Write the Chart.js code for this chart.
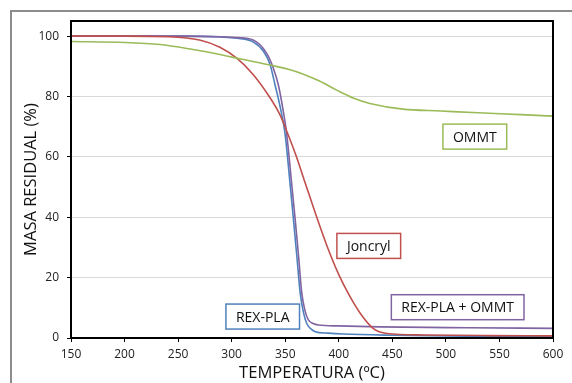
<!DOCTYPE html>
<html>
<head>
<meta charset="utf-8">
<script src="https://cdn.jsdelivr.net/npm/chart.js@4"></script>
<style>
  html, body { margin: 0; padding: 0; background: #fff; }
  #wrap { width: 572px; height: 383px; }
</style>
</head>
<body>
<div id="wrap"><canvas id="tga" width="572" height="383"></canvas></div>
<script>
// temperature (ºC) and residual mass (%)
const ommtTemp = [150, 200, 233, 260, 289, 310, 336, 352, 367, 382, 398, 414, 429, 460, 495, 530, 570, 600];
const ommtMass = [98.2, 97.9, 97.2, 95.8, 93.9, 92.3, 90.4, 89.1, 87.4, 85.1, 82.1, 79.4, 77.7, 75.8, 75.2, 74.6, 74.0, 73.5];

const joncrylTemp = [150, 200, 240, 270, 289, 305, 320, 336, 345, 352, 360, 368, 378, 389, 400, 410, 420, 432, 445, 480, 540, 600];
const joncrylMass = [100, 100, 99.8, 98.7, 96.3, 92.6, 87.3, 79.5, 74, 68, 60.5, 52, 41.5, 30.5, 21, 14, 8.2, 3.2, 1.5, 1.0, 0.8, 0.7];

const rexTemp = [150, 250, 290, 305, 320, 330, 336, 340.5, 345, 349.8, 354.5, 357.6, 361, 364, 367, 370, 374, 378, 390, 404, 450, 520, 600];
const rexMass = [100, 100, 99.7, 99.3, 98.1, 94.8, 90.4, 83.8, 77, 67.8, 51.2, 39.6, 26.5, 14.8, 8.5, 4.9, 3, 2.1, 1.6, 1.3, 0.9, 0.6, 0.5];

const rexOmmtTemp = [150, 250, 290, 305, 320, 332.7, 339, 343.6, 348.3, 351.3, 356, 359.2, 362.5, 365.4, 368.5, 371.6, 376, 381, 400, 438, 520, 600];
const rexOmmtMass = [100, 100, 99.8, 99.5, 98.7, 94.3, 89.3, 83.8, 74.9, 67.8, 51.2, 39.6, 27, 15, 9, 6, 4.8, 4.3, 4.0, 3.7, 3.4, 3.2];

const yTicks = [0, 20, 40, 60, 80, 100];

// label boxes: text, anchor temperature, anchor mass, colour
const boxText = ['OMMT', 'Joncryl', 'REX-PLA', 'REX-PLA + OMMT'];
const boxTemp = [527, 428, 329, 511];
const boxMass = [66.7, 30.5, 7.1, 10.2];
const boxColor = ['#9bbb59', '#c0504d', '#4f81bd', '#8064a2'];

function pairs(xs, ys) {
    return xs.map((x, i) => ({ x: x, y: ys[i] }));
}

function series(label, xs, ys, color) {
    return {
        label: label,
        data: pairs(xs, ys),
        borderColor: color,
        backgroundColor: color,
        borderWidth: 1.6,
        pointRadius: 0,
        fill: false,
        cubicInterpolationMode: 'monotone'
    };
}

const frames = {
    id: 'frames',
    afterDraw(chart) {
        const ctx = chart.ctx;
        const a = chart.chartArea;
        ctx.save();
        // outer grey frame
        ctx.strokeStyle = '#8c8c8c';
        ctx.lineWidth = 2;
        ctx.beginPath();
        ctx.moveTo(11, 383);
        ctx.lineTo(11, 11);
        ctx.lineTo(572, 11);
        ctx.stroke();
        // plot frame
        ctx.strokeStyle = '#000';
        ctx.lineWidth = 2;
        ctx.strokeRect(a.left, a.top, a.right - a.left, a.bottom - a.top);
        // label boxes
        const xs = chart.scales.x, ys = chart.scales.y;
        ctx.font = '14px "Open Sans", sans-serif';
        ctx.textAlign = 'center';
        ctx.textBaseline = 'middle';
        boxText.forEach((t, i) => {
            const cx = xs.getPixelForValue(boxTemp[i]);
            const cy = ys.getPixelForValue(boxMass[i]);
            const w = ctx.measureText(t).width + 20;
            const h = 25;
            ctx.fillStyle = '#fff';
            ctx.fillRect(cx - w / 2, cy - h / 2, w, h);
            ctx.strokeStyle = boxColor[i];
            ctx.lineWidth = 1.5;
            ctx.strokeRect(cx - w / 2, cy - h / 2, w, h);
            ctx.fillStyle = '#111';
            ctx.fillText(t, cx, cy + 1);
        });
        ctx.restore();
    }
};

new Chart(document.getElementById('tga').getContext('2d'), {
    type: 'line',
    data: {
        datasets: [
            series('OMMT', ommtTemp, ommtMass, '#9bbb59'),
            series('Joncryl', joncrylTemp, joncrylMass, '#c0504d'),
            series('REX-PLA + OMMT', rexOmmtTemp, rexOmmtMass, '#8064a2'),
            series('REX-PLA', rexTemp, rexMass, '#4f81bd')
        ]
    },
    options: {
        responsive: false,
        animation: false,
        layout: { padding: { top: 21, right: 19, left: 21, bottom: 0 } },
        plugins: {
            legend: { display: false },
            tooltip: { enabled: false }
        },
        scales: {
            x: {
                type: 'linear',
                min: 150,
                max: 600,
                ticks: {
                    stepSize: 50,
                    color: '#222',
                    font: { family: 'Open Sans', size: 12 },
                    padding: 5,
                    maxRotation: 0
                },
                grid: { drawOnChartArea: false, tickLength: 4, color: '#000' },
                border: { color: '#000', width: 2 },
                title: {
                    display: true,
                    text: 'TEMPERATURA (ºC)',
                    color: '#111',
                    font: { family: 'Open Sans', size: 16.6 },
                    padding: { top: 2, bottom: 0 }
                },
                afterFit(scale) { scale.height = 45; }
            },
            y: {
                min: 0,
                max: 105,
                ticks: {
                    stepSize: 20,
                    color: '#222',
                    font: { family: 'Open Sans', size: 12 },
                    padding: 8
                },
                afterBuildTicks(scale) {
                    scale.ticks = yTicks.map(v => ({ value: v }));
                },
                grid: { color: '#d9d9d9', lineWidth: 1, tickLength: 4, tickColor: '#000' },
                border: { color: '#000', width: 2 },
                title: {
                    display: true,
                    text: 'MASA RESIDUAL (%)',
                    color: '#111',
                    font: { family: 'Open Sans', size: 16.5 },
                    padding: { top: 0, bottom: 0 }
                },
                afterFit(scale) { scale.width = 50; }
            }
        }
    },
    plugins: [frames]
});
</script>
</body>
</html>
